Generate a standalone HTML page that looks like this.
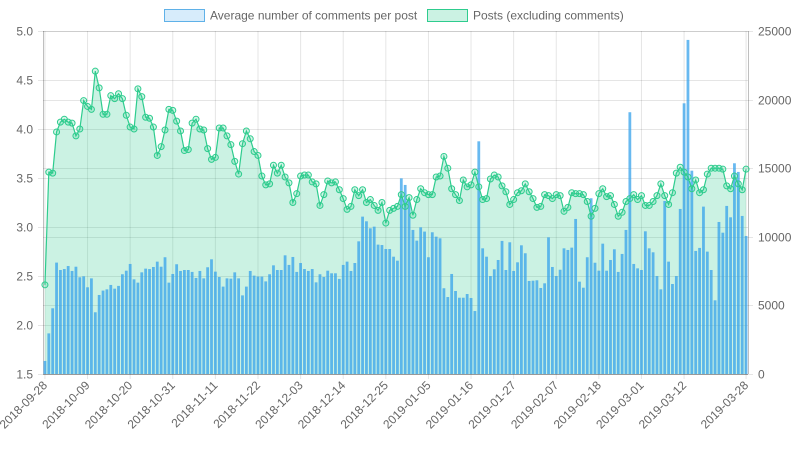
<!DOCTYPE html>
<html><head><meta charset="utf-8"><style>
html,body{margin:0;padding:0;background:#fff;}
svg{display:block;font-family:"Liberation Sans",sans-serif;}
</style></head><body>
<svg id="chart" width="798" height="450" viewBox="0 0 798 450">
<g>
<g>
<rect x="164.5" y="9.5" width="40" height="12" fill="rgba(54,162,235,0.2)" stroke="#5fb1e8" stroke-width="1"/>
<text x="210" y="19.5" font-size="12" fill="#666">Average number of comments per post</text></g>
<g>
<rect x="427.5" y="9.5" width="40" height="12" fill="rgba(46,204,142,0.25)" stroke="#2ecc8e" stroke-width="1"/>
<text x="473" y="19.5" font-size="12" fill="#666">Posts (excluding comments)</text></g>
</g>
<g id="grid"></g><g id="fill"></g><g id="bars"></g><g id="line"></g><g id="axes"></g>
</svg>
<script>
const startDate = "2018-09-28";
const avgComments = [2.41,3.56,3.55,3.97,4.07,4.10,4.07,4.06,3.93,4.0,4.29,4.23,4.2,4.59,4.42,4.15,4.15,4.34,4.31,4.36,4.31,4.14,4.02,4.0,4.41,4.33,4.12,4.11,4.02,3.73,3.82,3.99,4.2,4.19,4.08,3.98,3.78,3.79,4.06,4.10,4.0,3.99,3.8,3.69,3.71,4.01,4.01,3.93,3.84,3.67,3.54,3.85,3.98,3.9,3.77,3.73,3.52,3.43,3.44,3.63,3.55,3.63,3.51,3.45,3.25,3.34,3.52,3.53,3.53,3.46,3.44,3.22,3.33,3.47,3.45,3.46,3.38,3.29,3.18,3.21,3.38,3.32,3.38,3.25,3.28,3.22,3.17,3.25,3.04,3.17,3.19,3.21,3.33,3.21,3.3,3.12,3.28,3.39,3.35,3.33,3.33,3.51,3.52,3.72,3.6,3.39,3.33,3.27,3.48,3.41,3.43,3.56,3.41,3.28,3.29,3.49,3.53,3.51,3.42,3.36,3.23,3.28,3.35,3.37,3.44,3.36,3.29,3.2,3.21,3.33,3.32,3.29,3.33,3.32,3.16,3.2,3.35,3.34,3.34,3.33,3.26,3.11,3.19,3.34,3.39,3.31,3.32,3.23,3.11,3.15,3.26,3.29,3.33,3.28,3.32,3.22,3.22,3.26,3.32,3.44,3.32,3.23,3.35,3.55,3.61,3.56,3.51,3.39,3.48,3.35,3.38,3.54,3.6,3.6,3.6,3.59,3.42,3.39,3.52,3.44,3.38,3.59];
const posts = [950,2960,4790,8120,7580,7650,7870,7510,7820,7050,7120,6320,6970,4500,5760,6080,6170,6490,6220,6420,7270,7530,8020,6900,6660,7410,7680,7650,7800,8190,7820,8510,6660,7290,8000,7510,7580,7580,7440,7000,7510,6970,7780,8360,7460,7070,6370,6970,6950,7410,6970,5730,6370,7510,7170,7100,7100,6750,7270,7920,7580,7580,8650,7950,8530,7440,8090,7650,7510,7650,6680,7270,7070,7530,7340,7340,6930,7950,8190,7510,8090,9670,11470,11130,10620,10740,9430,9400,9110,9110,8550,8260,14260,13780,12680,10500,9720,10690,10380,8510,10330,10010,9890,6250,5610,7290,6050,5560,5560,5830,5540,4590,16960,9160,8550,7140,7630,8310,9700,7580,9600,7510,8140,9380,8800,6780,6800,6830,6270,6610,9960,7800,7140,7600,9160,9040,9210,11300,6730,6290,8510,12810,8110,7530,9500,7530,8310,9090,7440,8750,10500,19080,8020,7700,7580,10400,9160,8870,7140,6170,12610,8190,6560,7140,12030,19730,24350,14820,8970,9190,12200,8920,7580,5370,11080,10300,12250,11420,15360,14730,11520,10060];
const leftTicks = [1.5,2.0,2.5,3.0,3.5,4.0,4.5,5.0];
const rightTicks = [0,5000,10000,15000,20000,25000];

const NS="http://www.w3.org/2000/svg";
const L=43,R=748,T=31,B=374;
const N=avgComments.length, cw=(R-L)/N;
function xPos(i){return L+(i+0.5)*cw;}
function yLeft(v){return B-(v-1.5)/(5-1.5)*(B-T);}
function yRight(v){return B-v/25000*(B-T);}
function mk(tag,attrs,parent){const e=document.createElementNS(NS,tag);for(const k in attrs)e.setAttribute(k,attrs[k]);parent.appendChild(e);return e;}
function dateLabel(i){const d=new Date(startDate+"T00:00:00Z");d.setUTCDate(d.getUTCDate()+i);return d.toISOString().slice(0,10);}
const grid=document.getElementById('grid'),axes=document.getElementById('axes');
const xt=[];for(let i=0;i<N-6;i+=11)xt.push(i);xt.push(N-1);
xt.forEach(i=>{
  const x=xPos(i);
  const g=mk('line',{x1:x,x2:x,y1:T,y2:B+5,stroke:'rgba(0,0,0,0.1)','stroke-width':1},grid);
  
  
  const lx=x+3, ly=B+12;
  const t=mk('text',{x:lx,y:ly,'font-size':12,fill:'#666','text-anchor':'end',transform:`rotate(-45 ${lx} ${ly})`},axes);
  t.textContent=dateLabel(i);
  
  
});
leftTicks.forEach(v=>{
  const y=Math.round(yLeft(v))+0.5;
  const g=mk('line',{x1:L-5,x2:R,y1:y,y2:y,stroke:'rgba(0,0,0,0.1)','stroke-width':1},grid);
  
  
  const t=mk('text',{x:L-10,y:y+4,'font-size':12,fill:'#666','text-anchor':'end'},axes);
  t.textContent=v.toFixed(1);
  
  
});
rightTicks.forEach(v=>{
  const y=Math.round(yRight(v))+0.5;
  const g=mk('line',{x1:L,x2:R+5,y1:y,y2:y,stroke:'rgba(0,0,0,0.1)','stroke-width':1},grid);
  
  
  const t=mk('text',{x:R+10,y:y+4,'font-size':12,fill:'#666','text-anchor':'start'},axes);
  t.textContent=String(v);
  
  
});
const la=mk('line',{x1:L+0.5,x2:L+0.5,y1:T,y2:B,stroke:'rgba(0,0,0,0.25)'},grid);


const ra=mk('line',{x1:R+0.5,x2:R+0.5,y1:T,y2:B,stroke:'rgba(0,0,0,0.25)'},grid);


const xa=mk('line',{x1:L,x2:R,y1:B+0.5,y2:B+0.5,stroke:'rgba(0,0,0,0.25)'},grid);


let pts=avgComments.map((v,i)=>xPos(i).toFixed(2)+','+yLeft(v).toFixed(2));
const area=mk('polygon',{points:xPos(0)+','+B+' '+pts.join(' ')+' '+xPos(N-1)+','+B,fill:'rgba(46,204,142,0.25)'},document.getElementById('fill'));


const bw=cw*0.72, bars=document.getElementById('bars');
posts.forEach((v,i)=>{
  const y=yRight(v);
  const r=mk('rect',{x:xPos(i)-bw/2,y:y,width:bw,height:B-y,fill:'rgba(54,162,235,0.75)'},bars);
  
  
});
const lg=document.getElementById('line');
const pl=mk('polyline',{points:pts.join(' '),fill:'none',stroke:'#2ecc8e','stroke-width':1.2},lg);


avgComments.forEach((v,i)=>{
  const c=mk('circle',{cx:xPos(i),cy:yLeft(v),r:3,fill:'rgba(46,204,142,0.2)',stroke:'#2ecc8e','stroke-width':1},lg);
  
  
});
</script>
</body></html>
